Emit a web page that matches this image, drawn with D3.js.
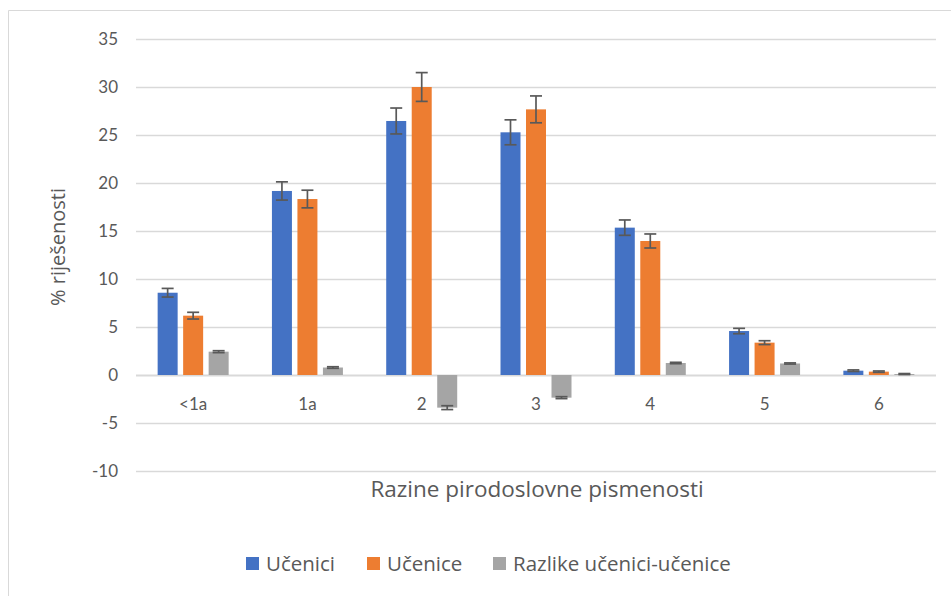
<!DOCTYPE html>
<html>
<head>
<meta charset="utf-8">
<script src="https://cdn.jsdelivr.net/npm/d3@7/dist/d3.min.js"></script>
<style>
  html, body { margin: 0; padding: 0; background: #fff; overflow: hidden; }
  svg { display: block; }
</style>
</head>
<body>
<svg id="chart" width="951" height="596" viewBox="0 0 951 596"></svg>
<script>
const categories = ["<1a", "1a", "2", "3", "4", "5", "6"];
const seriesNames = ["Učenici", "Učenice", "Razlike učenici-učenice"];
const seriesColors = ["#4472C4", "#ED7D31", "#A5A5A5"];
const ucenici      = [8.57, 19.17, 26.46, 25.28, 15.35, 4.58, 0.45];
const ucenice      = [6.18, 18.33, 30.0, 27.67, 13.96, 3.37, 0.35];
const razlike      = [2.43, 0.78, -3.4, -2.36, 1.25, 1.2, 0.1];
const uceniciErr   = [0.45, 0.95, 1.35, 1.3, 0.8, 0.28, 0.08];
const uceniceErr   = [0.35, 0.92, 1.5, 1.4, 0.73, 0.2, 0.07];
const razlikeErr   = [0.1, 0.08, 0.2, 0.1, 0.07, 0.06, 0.05];
const yTicks = [-10, -5, 0, 5, 10, 15, 20, 25, 30, 35];
const yTitle = "% riješenosti";
const xTitle = "Razine pirodoslovne pismenosti";

const values = [ucenici, ucenice, razlike];
const errors = [uceniciErr, uceniceErr, razlikeErr];

const svg = d3.select("#chart");
const textColor = "#595959";
const tickFont = "Lato, 'Open Sans', sans-serif";
const titleFont = "'Open Sans', Lato, sans-serif";

// chart border (left and top edges visible)
svg.append("line").attr("x1", 8.5).attr("x2", 8.5).attr("y1", 10.5).attr("y2", 596)
  .attr("stroke", "#d9d9d9").attr("stroke-width", 1);
svg.append("line").attr("x1", 8.5).attr("x2", 951).attr("y1", 10.5).attr("y2", 10.5)
  .attr("stroke", "#d9d9d9").attr("stroke-width", 1);

const plot = { left: 136, right: 936, top: 39, bottom: 471 };

const y = d3.scaleLinear().domain([-10, 35]).range([plot.bottom, plot.top]);
const x0 = d3.scaleBand().domain(categories).range([plot.left, plot.right]).paddingInner(0).paddingOuter(0);
const innerWidth = 71;
const x1 = d3.scaleBand().domain(d3.range(3)).range([0, innerWidth]).paddingInner(5.5 / 25.5).paddingOuter(0);

// gridlines
svg.append("g").selectAll("line").data(yTicks).join("line")
  .attr("x1", plot.left).attr("x2", plot.right)
  .attr("y1", d => Math.round(y(d)) + 0.5).attr("y2", d => Math.round(y(d)) + 0.5)
  .attr("stroke", "#d9d9d9").attr("stroke-width", d => d === 0 ? 2 : 1.3);

// y axis
const yAxis = d3.axisLeft(y).tickValues(yTicks).tickSize(0).tickPadding(0).tickFormat(d => String(d));
const gy = svg.append("g").attr("transform", "translate(118,0)").call(yAxis);
gy.attr("font-family", tickFont).attr("font-size", 17);
gy.select(".domain").remove();
gy.selectAll("text").attr("fill", textColor);

// bars
categories.forEach((cat, ci) => {
  const gx0 = x0(cat) + (x0.bandwidth() - innerWidth) / 2;
  for (let s = 0; s < 3; s++) {
    const v = values[s][ci];
    const e = errors[s][ci];
    const bx = gx0 + x1(s);
    const bw = x1.bandwidth();
    svg.append("rect")
      .attr("x", bx).attr("width", bw)
      .attr("y", y(Math.max(0, v))).attr("height", Math.abs(y(v) - y(0)))
      .attr("fill", seriesColors[s]);
    const cx = bx + bw / 2;
    const cap = 6;
    const eg = svg.append("g").attr("stroke", "#595959").attr("stroke-width", 1.7);
    eg.append("line").attr("x1", cx).attr("x2", cx).attr("y1", y(v - e)).attr("y2", y(v + e));
    eg.append("line").attr("x1", cx - cap).attr("x2", cx + cap).attr("y1", y(v + e)).attr("y2", y(v + e));
    eg.append("line").attr("x1", cx - cap).attr("x2", cx + cap).attr("y1", y(v - e)).attr("y2", y(v - e));
  }
});

// x axis
const xAxis = d3.axisBottom(x0).tickSize(0).tickPadding(0);
const gx = svg.append("g").attr("transform", `translate(0,${y(0) + 23})`).call(xAxis);
gx.attr("font-family", tickFont).attr("font-size", 17);
gx.select(".domain").remove();
gx.selectAll("text").attr("fill", textColor);

// axis titles
svg.append("text").attr("transform", "translate(60,247) rotate(-90)")
  .attr("text-anchor", "middle").attr("dominant-baseline", "middle")
  .attr("fill", textColor).attr("font-family", titleFont)
  .attr("font-size", 20).text(yTitle);

svg.append("text").attr("x", 537).attr("y", 497)
  .attr("text-anchor", "middle").attr("fill", textColor)
  .attr("font-family", titleFont).attr("font-size", 22.5).text(xTitle);

// legend
const legendX = [246, 367, 493];
seriesNames.forEach((name, i) => {
  svg.append("rect").attr("x", legendX[i]).attr("y", 557).attr("width", 13).attr("height", 13)
    .attr("fill", seriesColors[i]);
  svg.append("text").attr("x", legendX[i] + 20).attr("y", 570.5).attr("fill", textColor)
    .attr("font-family", titleFont).attr("font-size", 20.5).text(name);
});
</script>
</body>
</html>
